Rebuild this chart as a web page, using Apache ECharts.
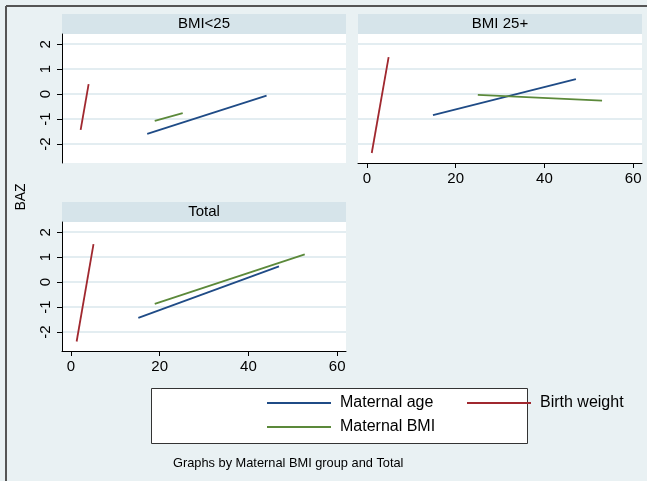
<!DOCTYPE html>
<html>
<head>
<meta charset="utf-8">
<script src="https://cdn.jsdelivr.net/npm/echarts@6/dist/echarts.min.js"></script>
<style>
  html, body { margin: 0; padding: 0; background: #e9f1f3; }
  #chart { width: 647px; height: 481px; }
</style>
</head>
<body>
<div id="chart"></div>
<script>
// panel titles and axis ticks
var panelTitles = ['BMI<25', 'BMI 25+', 'Total'];
var xTicks = [0, 20, 40, 60];
var yTicks = [-2, -1, 0, 1, 2];

// fitted lines, [x, BAZ] end points
var ageLow = [[17.2, -1.59], [44.1, -0.06]];
var bwLow = [[2.2, -1.43], [4.0, 0.4]];
var bmiLow = [[18.9, -1.07], [25.2, -0.76]];

var ageHigh = [[14.9, -0.84], [47.1, 0.6]];
var bwHigh = [[1.1, -2.36], [4.9, 1.48]];
var bmiHigh = [[25, -0.03], [53, -0.26]];

var ageTotal = [[15.2, -1.43], [46.9, 0.63]];
var bwTotal = [[1.3, -2.38], [5.1, 1.52]];
var bmiTotal = [[18.9, -0.87], [52.7, 1.11]];

var navy = '#1f4b86', maroon = '#a0282f', green = '#5b893a';
var font = 'Arial, "Liberation Sans", sans-serif';
var gridColor = '#e3edf1';

var grids = [
  { left: 62, top: 34, width: 284, height: 129 },
  { left: 358, top: 34, width: 284, height: 129 },
  { left: 62, top: 222, width: 284, height: 129 }
];

function xAxisFor(i, show) {
  return {
    type: 'value', gridIndex: i, min: -2, max: 62,
    axisLine: { show: show, onZero: false, lineStyle: { color: '#000', width: 1 } },
    axisTick: { show: show, customValues: xTicks, length: 5, lineStyle: { color: '#000' } },
    axisLabel: { show: show, customValues: xTicks, color: '#000', fontSize: 15, fontFamily: font, margin: 8 },
    splitLine: { show: false }
  };
}
function yAxisFor(i, show) {
  return {
    type: 'value', gridIndex: i, min: -2.76, max: 2.41,
    axisLine: { show: show, onZero: false, lineStyle: { color: '#000', width: 1 } },
    axisTick: { show: show, customValues: yTicks, length: 5, lineStyle: { color: '#000' } },
    axisLabel: { show: show, customValues: yTicks, rotate: 90, color: '#000', fontSize: 15, fontFamily: font, margin: 9 },
    splitLine: { show: true, lineStyle: { color: gridColor, width: 2 } }
  };
}

function line(name, data, color, i) {
  return {
    type: 'line', name: name, data: data, xAxisIndex: i, yAxisIndex: i,
    symbol: 'none', lineStyle: { color: color, width: 1.8 }, itemStyle: { color: color }
  };
}

var graphics = [];
grids.forEach(function(g, i) {
  graphics.push({
    type: 'rect', shape: { x: g.left, y: g.top - 20, width: g.width, height: 20 },
    style: { fill: '#d6e4ea' }, z: -1
  });
  graphics.push({
    type: 'rect', shape: { x: g.left, y: g.top, width: g.width, height: g.height },
    style: { fill: '#fff' }, z: -1
  });
  graphics.push({
    type: 'text', x: g.left + g.width / 2, y: g.top - 10,
    style: { text: panelTitles[i], fill: '#000', font: '15px ' + font, align: 'center', verticalAlign: 'middle' }
  });
});
graphics.push(
  { type: 'line', shape: { x1: 6, y1: 6, x2: 647, y2: 6 }, style: { stroke: '#555', lineWidth: 2 } },
  { type: 'line', shape: { x1: 6, y1: 6, x2: 6, y2: 481 }, style: { stroke: '#555', lineWidth: 2 } },
  { type: 'text', x: 21, y: 197, rotation: Math.PI / 2,
    style: { text: 'BAZ', fill: '#000', font: '14px ' + font, align: 'center', verticalAlign: 'middle' } },
  { type: 'rect', shape: { x: 151.5, y: 388.5, width: 376, height: 55 },
    style: { fill: '#fff', stroke: '#333', lineWidth: 1 }, z: -1 },
  { type: 'text', x: 173, y: 463,
    style: { text: 'Graphs by Maternal BMI group and Total', fill: '#000', font: '12.8px ' + font, verticalAlign: 'middle' } }
);

var legendText = { color: '#000', fontSize: 16, fontFamily: font, lineHeight: 16, padding: [0, 0, 0, 4] };

var chart = echarts.init(document.getElementById('chart'), null, { renderer: 'canvas' });
chart.setOption({
  animation: false,
  backgroundColor: '#e9f1f3',
  grid: grids,
  xAxis: [xAxisFor(0, false), xAxisFor(1, true), xAxisFor(2, true)],
  yAxis: [yAxisFor(0, true), yAxisFor(1, false), yAxisFor(2, true)],
  legend: [
    { orient: 'vertical', left: 267, top: 395, padding: 0, itemWidth: 64, itemHeight: 2, itemGap: 8,
      icon: 'rect', textStyle: legendText, data: ['Maternal age', 'Maternal BMI'] },
    { orient: 'vertical', left: 467, top: 395, padding: 0, itemWidth: 64, itemHeight: 2,
      icon: 'rect', textStyle: legendText, data: ['Birth weight'] }
  ],
  graphic: graphics,
  series: [
    line('Maternal age', ageLow, navy, 0),
    line('Birth weight', bwLow, maroon, 0),
    line('Maternal BMI', bmiLow, green, 0),
    line('Maternal age', ageHigh, navy, 1),
    line('Birth weight', bwHigh, maroon, 1),
    line('Maternal BMI', bmiHigh, green, 1),
    line('Maternal age', ageTotal, navy, 2),
    line('Birth weight', bwTotal, maroon, 2),
    line('Maternal BMI', bmiTotal, green, 2)
  ]
});
</script>
</body>
</html>
